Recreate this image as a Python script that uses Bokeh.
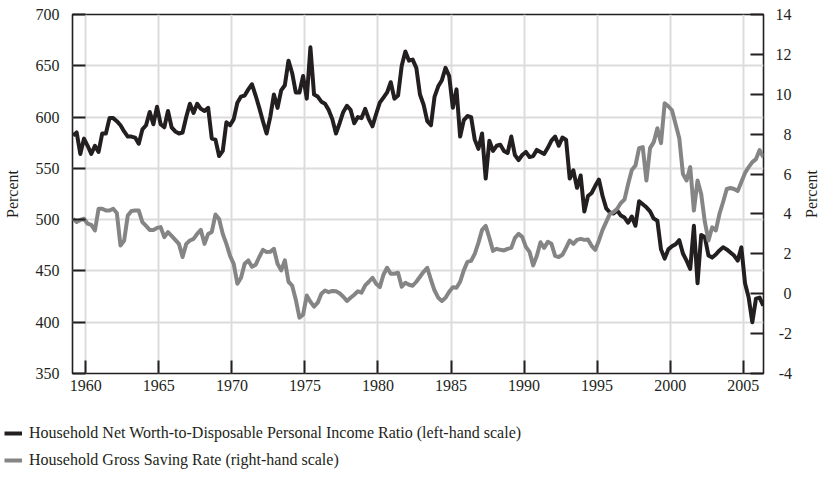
import math
from bokeh.plotting import figure
from bokeh.layouts import column, row
from bokeh.models import (Range1d, LinearAxis, FixedTicker, Legend, LegendItem, Label)
from bokeh.embed import file_html
from bokeh.resources import INLINE

FONT = "Liberation Serif"
BLACK = "#231f20"
GRAY = "#858585"
GRID = "#dcdcdc"

first_year = 1959  # quarterly data, 1959Q1 .. 2006Q2

# Household Net Worth-to-Disposable Personal Income Ratio (percent, left scale)
net_worth_ratio = [
    582, 585, 564, 579,   # 1959
    572, 564, 572, 566,   # 1960
    584, 584, 599, 599,   # 1961
    596, 592, 586, 581,   # 1962
    581, 580, 574, 588,   # 1963
    592, 605, 593, 610,   # 1964
    593, 590, 606, 590,   # 1965
    586, 584, 585, 600,   # 1966
    613, 604, 613, 608,   # 1967
    606, 609, 579, 578,   # 1968
    562, 567, 595, 592,   # 1969
    598, 614, 620, 621,   # 1970
    627, 632, 621, 609,   # 1971
    596, 584, 600, 622,   # 1972
    609, 626, 631, 655,   # 1973
    643, 624, 624, 640,   # 1974
    618, 668, 622, 620,   # 1975
    615, 613, 607, 598,   # 1976
    584, 594, 605, 611,   # 1977
    607, 594, 600, 599,   # 1978
    608, 598, 591, 603,   # 1979
    614, 619, 624, 634,   # 1980
    618, 621, 650, 664,   # 1981
    655, 656, 648, 622,   # 1982
    612, 596, 592, 620,   # 1983
    630, 636, 648, 640,   # 1984
    609, 627, 581, 597,   # 1985
    601, 600, 578, 569,   # 1986
    584, 540, 577, 567,   # 1987
    572, 573, 567, 565,   # 1988
    581, 563, 558, 563,   # 1989
    566, 561, 562, 568,   # 1990
    566, 564, 570, 577,   # 1991
    581, 572, 580, 578,   # 1992
    540, 548, 531, 543,   # 1993
    508, 523, 526, 533,   # 1994
    539, 523, 511, 507,   # 1995
    506, 509, 504, 502,   # 1996
    497, 503, 494, 518,   # 1997
    515, 512, 508, 501,   # 1998
    499, 471, 462, 471,   # 1999
    474, 476, 480, 467,   # 2000
    460, 452, 494, 438,   # 2001
    485, 483, 465, 463,   # 2002
    466, 470, 473, 471,   # 2003
    468, 465, 460, 473,   # 2004
    438, 424, 400, 423,   # 2005
    424, 416,             # 2006
]

# Household Gross Saving Rate (percent, right scale)
saving_rate = [
    3.76, 3.60, 3.70, 3.76,     # 1959
    3.51, 3.45, 3.17, 4.26,     # 1960
    4.26, 4.17, 4.17, 4.26,     # 1961
    4.05, 2.42, 2.67, 3.92,     # 1962
    4.15, 4.17, 4.17, 3.59,     # 1963
    3.40, 3.20, 3.20, 3.30,     # 1964
    3.34, 2.84, 3.09, 2.90,     # 1965
    2.70, 2.50, 1.84, 2.50,     # 1966
    2.67, 2.75, 3.00, 3.20,     # 1967
    2.50, 3.00, 3.10, 3.97,     # 1968
    3.75, 3.00, 2.50, 1.90,     # 1969
    1.50, 0.50, 0.80, 1.50,     # 1970
    1.67, 1.35, 1.45, 1.84,     # 1971
    2.20, 2.09, 2.10, 2.25,     # 1972
    1.50, 1.17, 1.67, 0.60,     # 1973
    0.41, -0.30, -1.20, -1.05,  # 1974
    -0.09, -0.40, -0.65, -0.45, # 1975
    0.00, 0.16, 0.08, 0.14,     # 1976
    0.12, 0.02, -0.15, -0.36,   # 1977
    -0.20, -0.05, 0.12, 0.05,   # 1978
    0.42, 0.60, 0.80, 0.50,     # 1979
    0.33, 0.95, 1.30, 1.00,     # 1980
    1.00, 1.05, 0.35, 0.55,     # 1981
    0.45, 0.40, 0.60, 0.85,     # 1982
    1.10, 1.30, 0.70, 0.16,     # 1983
    -0.20, -0.36, -0.20, 0.10,  # 1984
    0.33, 0.30, 0.60, 1.17,     # 1985
    1.60, 1.65, 2.00, 2.55,     # 1986
    3.20, 3.40, 2.80, 2.15,     # 1987
    2.25, 2.20, 2.17, 2.25,     # 1988
    2.30, 2.80, 3.00, 2.85,     # 1989
    2.35, 2.10, 1.42, 1.90,     # 1990
    2.58, 2.30, 2.60, 2.50,     # 1991
    1.90, 1.84, 1.95, 2.30,     # 1992
    2.67, 2.50, 2.70, 2.75,     # 1993
    2.70, 2.72, 2.40, 2.20,     # 1994
    2.67, 3.20, 3.60, 4.00,     # 1995
    4.10, 4.26, 4.55, 4.72,     # 1996
    5.50, 6.20, 6.43, 7.30,     # 1997
    7.35, 5.68, 7.30, 7.60,     # 1998
    8.30, 7.55, 9.55, 9.40,     # 1999
    9.20, 8.50, 7.80, 6.00,     # 2000
    5.68, 6.35, 4.17, 5.68,     # 2001
    5.00, 3.60, 2.67, 3.33,     # 2002
    3.17, 4.00, 4.60, 5.25,     # 2003
    5.30, 5.25, 5.15, 5.60,     # 2004
    6.05, 6.35, 6.60, 6.75,     # 2005
    7.20, 6.85,                 # 2006
]

year_ticks = [1960, 1965, 1970, 1975, 1980, 1985, 1990, 1995, 2000, 2005]
left_ticks = [350, 400, 450, 500, 550, 600, 650, 700]
right_ticks = [-4, -2, 0, 2, 4, 6, 8, 10, 12, 14]
# right-hand labels, padded so they line up on the right like the original
right_tick_labels = ["\u2009-4", "\u2009-2", "\u20020", "\u20022", "\u20024",
                     "\u20026", "\u20028", "10", "12", "14"]

series_names = [
    "Household Net Worth-to-Disposable Personal Income Ratio (left-hand scale)",
    "Household Gross Saving Rate (right-hand scale)",
]
axis_title = "Percent"

# quarter mid-points on a decimal-year time axis
quarter = [first_year + (i + 0.5) / 4 for i in range(len(net_worth_ratio))]

p = figure(width=798, height=400, output_backend="svg", toolbar_location=None,
           x_range=Range1d(1959.09, 2006.39), y_range=Range1d(350, 700),
           min_border_left=71, min_border_right=35, min_border_top=14,
           min_border_bottom=27)
p.frame_align = False
p.extra_y_ranges = {"right": Range1d(-4, 14)}
p.outline_line_color = BLACK
p.outline_line_width = 1.6


def style_axis(ax):
    ax.axis_line_color = None
    ax.major_tick_in = 13
    ax.major_tick_out = 0
    ax.minor_tick_in = 0
    ax.minor_tick_out = 0
    ax.major_tick_line_color = BLACK
    ax.major_tick_line_width = 2
    ax.major_label_text_font = FONT
    ax.major_label_text_font_size = "16px"
    ax.major_label_text_color = BLACK
    ax.axis_label_text_font = FONT
    ax.axis_label_text_font_size = "16px"
    ax.axis_label_text_font_style = "normal"
    ax.axis_label_text_color = BLACK


xax = p.xaxis[0]
xax.ticker = FixedTicker(ticks=year_ticks)
style_axis(xax)
xax.major_label_standoff = 6

yax = p.yaxis[0]
yax.ticker = FixedTicker(ticks=left_ticks)
style_axis(yax)
yax.major_label_standoff = 13
yax.axis_label = axis_title
yax.axis_label_standoff = 12

rax = LinearAxis(y_range_name="right", ticker=FixedTicker(ticks=right_ticks))
style_axis(rax)
rax.major_label_standoff = 12
rax.major_label_overrides = dict(zip(right_ticks, right_tick_labels))
p.add_layout(rax, "right")

p.xgrid.ticker = FixedTicker(ticks=year_ticks)
p.ygrid.ticker = FixedTicker(ticks=left_ticks)
for g in (p.xgrid[0], p.ygrid[0]):
    g.grid_line_color = GRID
    g.grid_line_width = 2

p.line(quarter, net_worth_ratio, line_color=BLACK, line_width=4, line_join="round")
p.line(quarter, saving_rate, y_range_name="right", line_color=GRAY, line_width=4,
       line_join="round")


def blank(width, height, xr, yr):
    f = figure(width=width, height=height, output_backend="svg",
               toolbar_location=None, x_range=xr, y_range=yr,
               x_axis_type=None, y_axis_type=None,
               min_border_left=0, min_border_right=0, min_border_top=0,
               min_border_bottom=0)
    f.frame_align = False
    f.outline_line_color = None
    f.grid.visible = False
    return f


# right-hand axis title in its own narrow strip (reads bottom to top)
rt = blank(22, 400, Range1d(0, 22), Range1d(0, 400))
rt.add_layout(Label(x=13, y=206.5, text=axis_title, angle=math.pi / 2,
                    text_align="center", text_baseline="middle",
                    text_font=FONT, text_font_size="16px", text_color=BLACK))

# legend strip below the chart (the key lines lie outside this strip's view)
lg = blank(820, 77, Range1d(0, 1), Range1d(0, 1))
k1 = lg.line(quarter, net_worth_ratio, line_color=BLACK, line_width=4)
k2 = lg.line(quarter, saving_rate, line_color=GRAY, line_width=4)
legend = Legend(items=[LegendItem(label=series_names[0], renderers=[k1]),
                       LegendItem(label=series_names[1], renderers=[k2])],
                location=(4, 7), orientation="vertical",
                border_line_color=None, background_fill_alpha=0,
                padding=0, margin=0, spacing=7,
                glyph_width=18, glyph_height=20, label_height=20,
                label_standoff=7, label_text_font=FONT,
                label_text_font_size="16px", label_text_color=BLACK)
lg.add_layout(legend)

page = column(row(p, rt, spacing=0), lg, spacing=0)
open("out.html", "w").write(file_html(page, INLINE))
